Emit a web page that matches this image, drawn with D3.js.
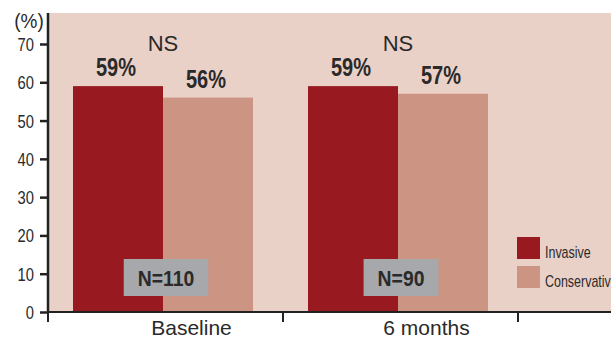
<!DOCTYPE html>
<html><head><meta charset="utf-8">
<script src="https://cdn.jsdelivr.net/npm/d3@7"></script>
<style>
html,body{margin:0;padding:0;background:#fff;overflow:hidden;}
svg{display:block;}
</style></head>
<body>
<svg id="c" width="611" height="337"></svg>
<script>
const categories = ["Baseline", "6 months"];
const series = ["Invasive", "Conservative"];
const invasive = [59, 59];
const conservative = [56, 57];
const sampleSizes = ["N=110", "N=90"];
const significance = ["NS", "NS"];
const yTicks = [0, 10, 20, 30, 40, 50, 60, 70];
const colors = ["#981a20", "#cc9483"];

(function () {
const values = [invasive, conservative];
const svg = d3.select("#c");
const W = 611, H = 337;
const mLeft = 48, mTop = 13, mBottom = 312;
const font = "'Liberation Sans',Arial,sans-serif";
const textCol = "#2a2a2a";

function ctext(parent, x, y, str, size, sx, opts) {
  opts = opts || {};
  return parent.append("text")
    .attr("transform", `translate(${x},${y}) scale(${sx},1)`)
    .attr("text-anchor", opts.anchor || "middle")
    .attr("font-family", font)
    .attr("font-weight", opts.bold ? "bold" : "normal")
    .attr("font-size", size)
    .attr("fill", textCol)
    .text(str);
}

const y = d3.scaleLinear().domain([0, 70]).range([mBottom, 44]);
const x0 = d3.scaleBand().domain(categories).range([mLeft, 518]).padding(0);
const x1 = d3.scaleBand().domain(series).range([25, 205]).padding(0);

svg.append("rect").attr("x", mLeft).attr("y", mTop).attr("width", W - mLeft).attr("height", mBottom - mTop).attr("fill", "#ead1c8");

const g = svg.append("g");
categories.forEach((c, i) => {
  series.forEach((s, j) => {
    const v = values[j][i];
    g.append("rect")
      .attr("x", x0(c) + x1(s))
      .attr("y", y(v))
      .attr("width", x1.bandwidth())
      .attr("height", y(0) - y(v))
      .attr("fill", colors[j]);
    ctext(g, x0(c) + x1(s) + x1.bandwidth() / 2 - 2, y(v) - 10, v + "%", 25, 0.8, {bold: true});
  });
  const gc = x0(c) + x1.range()[0] + (x1.range()[1] - x1.range()[0]) / 2;
  ctext(g, gc, 51, significance[i], 22, 1);
  const nb = g.append("g");
  const rect = nb.append("rect").attr("fill", "#a7a8ab");
  const t = ctext(nb, gc + 3, 286, sampleSizes[i], 22, 0.88, {bold: true});
  const bb = t.node().getBBox();
  const w = bb.width * 0.88;
  rect.attr("x", gc + 3 - w / 2 - 14).attr("width", w + 28).attr("y", 259).attr("height", 37);
});

const yAxis = d3.axisLeft(y).tickValues(yTicks).tickSize(8).tickPadding(5);
const ya = svg.append("g").attr("transform", `translate(${mLeft},0)`).call(yAxis);
ya.select(".domain").remove();
ya.selectAll(".tick line").attr("stroke", "#222").attr("stroke-width", 2.5);
ya.selectAll(".tick text").remove();
ya.selectAll(".tick").each(function (d) {
  ctext(d3.select(this), -14, 6.5, d, 18, 0.82, {anchor: "end"});
});
svg.append("line").attr("x1", mLeft).attr("x2", mLeft).attr("y1", mTop).attr("y2", mBottom + 1).attr("stroke", "#222").attr("stroke-width", 2.5);
ctext(svg, 29, 28, "(%)", 20, 0.95);

svg.append("line").attr("x1", mLeft).attr("x2", W).attr("y1", mBottom).attr("y2", mBottom).attr("stroke", "#222").attr("stroke-width", 2);
const bounds = [x0.range()[0]].concat(categories.map(c => x0(c) + x0.bandwidth()));
bounds.forEach(b => {
  svg.append("line").attr("x1", b).attr("x2", b).attr("y1", mBottom).attr("y2", mBottom + 10).attr("stroke", "#222").attr("stroke-width", 2);
});
categories.forEach(c => {
  ctext(svg, x0(c) + x0.bandwidth() / 2 + 26, 335, c, 21, 1);
});

series.forEach((s, j) => {
  const ly = 237 + j * 29;
  svg.append("rect").attr("x", 517).attr("y", ly).attr("width", 23).attr("height", 22).attr("fill", colors[j]);
  ctext(svg, 545, ly + 21, s, 16, 0.78, {anchor: "start"});
});
})();
</script>
</body></html>
